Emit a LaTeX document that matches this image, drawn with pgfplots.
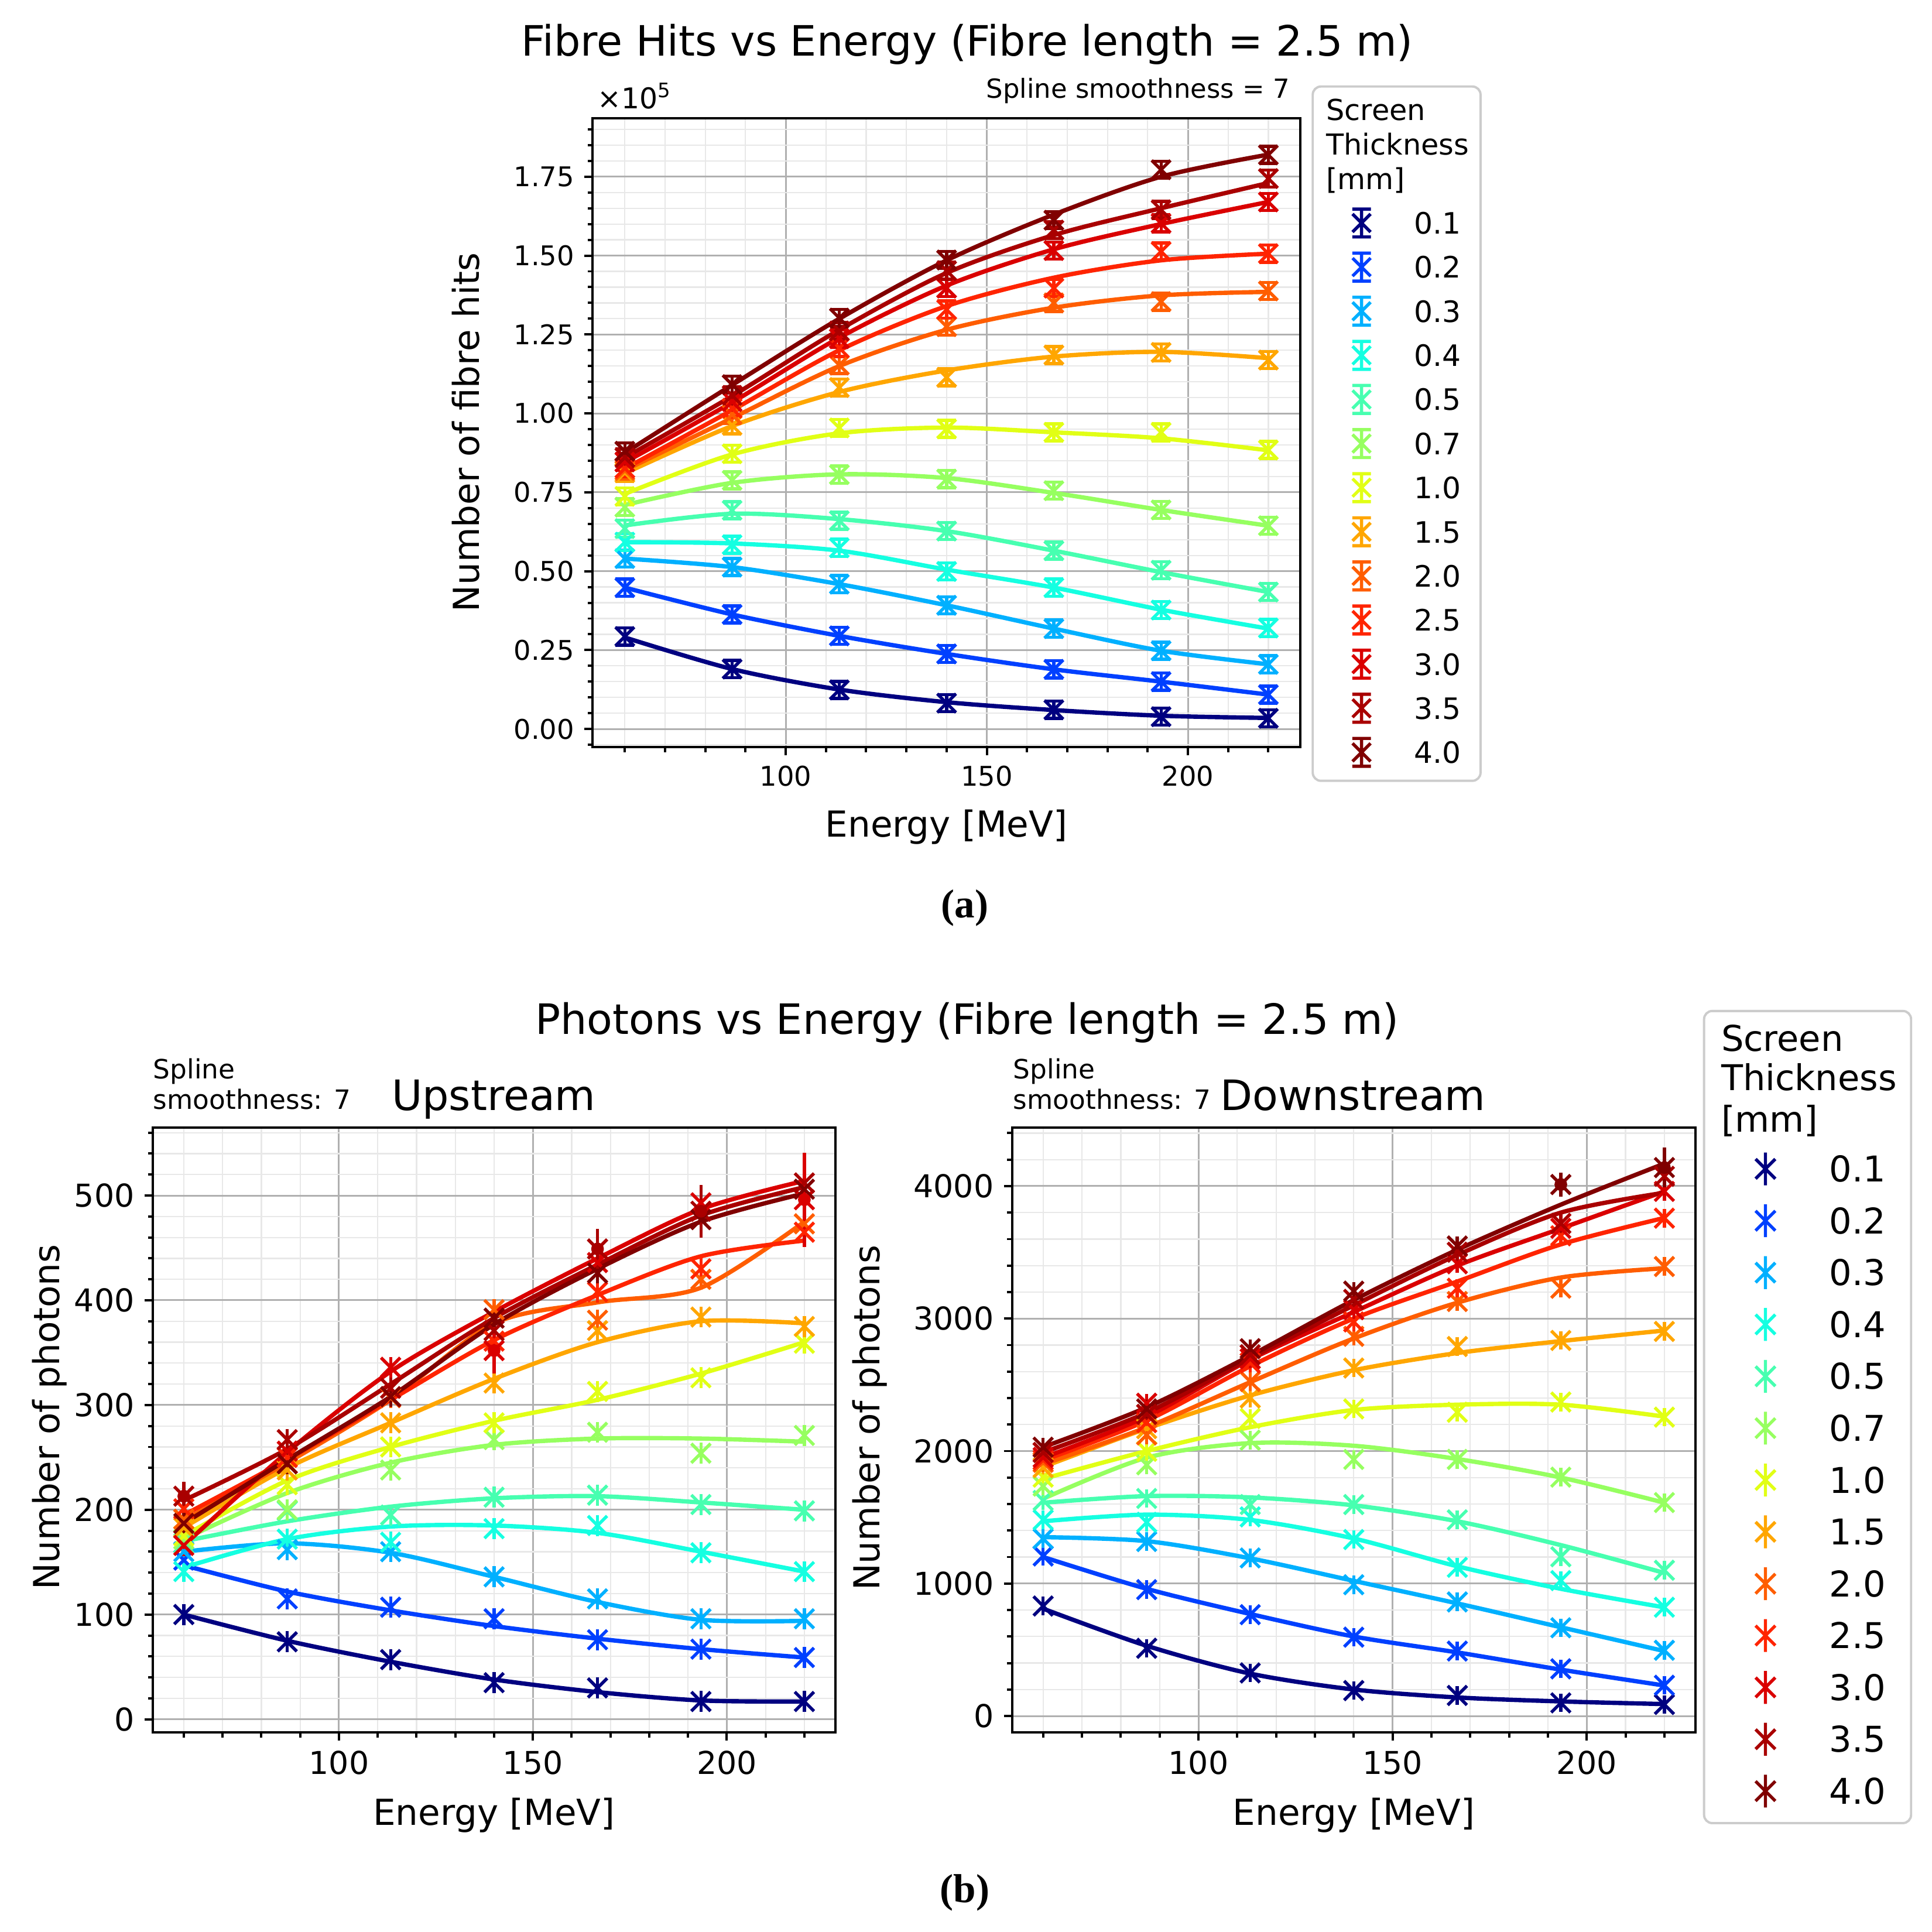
\documentclass[border=0pt]{standalone}
\usepackage{fontspec}
\setmainfont{DejaVu Sans}
\newfontfamily\capfont{Liberation Serif}
\usepackage{pgfplots}
\usepackage{pgfplotstable}
\pgfplotsset{compat=1.18}

\definecolor{c01}{HTML}{000080}
\definecolor{c02}{HTML}{0040FF}
\definecolor{c03}{HTML}{00B0FF}
\definecolor{c04}{HTML}{15FFE1}
\definecolor{c05}{HTML}{47FFB0}
\definecolor{c07}{HTML}{96FF60}
\definecolor{c10}{HTML}{E1FF15}
\definecolor{c15}{HTML}{FFA600}
\definecolor{c20}{HTML}{FF5D00}
\definecolor{c25}{HTML}{FF2400}
\definecolor{c30}{HTML}{DA0000}
\definecolor{c35}{HTML}{A90000}
\definecolor{c40}{HTML}{800000}

% ---------- Fibre hits (x 1e5): markers and spline curve ----------
\pgfplotstableread{
E m01 m02 m03 m04 m05 m07 m10 m15 m20 m25 m30 m35 m40
60 0.293 0.448 0.540 0.592 0.635 0.703 0.737 0.812 0.819 0.826 0.846 0.860 0.880
86.67 0.190 0.363 0.513 0.584 0.693 0.788 0.872 0.962 0.996 1.016 1.037 1.057 1.091
113.33 0.124 0.295 0.459 0.574 0.660 0.806 0.954 1.082 1.153 1.207 1.237 1.261 1.302
140 0.082 0.238 0.392 0.499 0.627 0.792 0.951 1.114 1.275 1.329 1.397 1.452 1.486
166.67 0.061 0.189 0.318 0.448 0.565 0.755 0.940 1.185 1.350 1.397 1.516 1.581 1.612
193.33 0.039 0.150 0.248 0.377 0.503 0.694 0.940 1.193 1.354 1.513 1.602 1.645 1.772
220 0.034 0.109 0.205 0.320 0.434 0.644 0.884 1.169 1.388 1.506 1.670 1.744 1.819
}\tM
\pgfplotstableread{
E l01 l02 l03 l04 l05 l07 l10 l15 l20 l25 l30 l35 l40
60 0.290 0.448 0.540 0.592 0.645 0.710 0.745 0.810 0.820 0.825 0.845 0.860 0.875
86.67 0.190 0.363 0.513 0.588 0.682 0.780 0.870 0.960 0.985 1.010 1.035 1.055 1.090
113.33 0.125 0.295 0.459 0.565 0.665 0.807 0.937 1.068 1.150 1.200 1.240 1.265 1.300
140 0.085 0.238 0.392 0.505 0.627 0.795 0.955 1.136 1.265 1.340 1.405 1.445 1.485
166.67 0.060 0.189 0.318 0.448 0.565 0.748 0.940 1.180 1.335 1.430 1.520 1.565 1.630
193.33 0.042 0.150 0.248 0.378 0.497 0.694 0.921 1.195 1.374 1.485 1.600 1.650 1.750
220 0.035 0.109 0.205 0.318 0.434 0.644 0.883 1.175 1.385 1.506 1.670 1.730 1.820
}\tL

% ---------- Upstream photons ----------
\pgfplotstableread{
E m01 m02 m03 m04 m05 m07 m10 m15 m20 m25 m30 m35 m40
60 100 152 160 141 168 172 175 183 191 201 166 213 187
86.67 74 115 162 172 199 200 224 238 244 250 256 267 244
113.33 57 107 160 169 195 238 260 283 307 308 336 316 308
140 35 96 136 182 212 267 283 321 391 361 352 371 383
166.67 30 76 115 185 214 274 313 371 381 408 436 449 426
193.33 17 67 96 159 205 254 326 384 420 430 493 485 477
220 17 59 96 141 199 271 359 375 473 465 496 512 506
}\uM
\pgfplotstableread{
E l01 l02 l03 l04 l05 l07 l10 l15 l20 l25 l30 l35 l40
60 100 147 160 145 170 172 175 183 190 195 166 209 187
86.67 75 122 168 172 189 216 228 240 245 248 255 258 248
113.33 55 104 159 184 203 245 260 283 305 305 332 320 308
140 38 89 136 185 211 262 285 325 378 362 389 383 377
166.67 26 77 112 178 213 268 305 360 398 405 440 434 430
193.33 18 67 95 160 207 268 330 380 412 442 487 481 475
220 17 59 94 141 200 265 360 378 475 457 514 508 502
}\uL

% ---------- Downstream photons ----------
\pgfplotstableread{
E m01 m02 m03 m04 m05 m07 m10 m15 m20 m25 m30 m35 m40
60 830 1208 1338 1481 1627 1735 1803 1875 1915 1933 1952 1989 2029
86.67 511 954 1317 1462 1642 1896 1998 2169 2122 2215 2361 2277 2318
113.33 325 765 1193 1503 1596 2082 2246 2401 2525 2665 2696 2727 2773
140 192 595 991 1332 1596 1937 2318 2627 2866 2975 3067 3145 3207
166.67 155 490 861 1122 1481 1937 2293 2789 3129 3229 3414 3501 3548
193.33 99 356 666 1022 1202 1803 2370 2835 3229 3625 3681 3718 4012
220 87 232 496 821 1100 1611 2256 2903 3393 3758 3960 4074 4140
}\dM
\pgfplotstableread{
E l01 l02 l03 l04 l05 l07 l10 l15 l20 l25 l30 l35 l40
60 810 1200 1350 1470 1610 1640 1790 1880 1900 1930 1950 1990 2030
86.67 530 960 1320 1520 1660 1950 2000 2170 2180 2230 2260 2290 2330
113.33 320 770 1190 1480 1650 2060 2180 2420 2520 2640 2690 2700 2720
140 200 600 1020 1340 1590 2040 2310 2610 2850 3000 3050 3100 3140
166.67 140 480 850 1130 1470 1940 2350 2740 3120 3280 3400 3480 3520
193.33 110 350 670 960 1290 1800 2350 2830 3310 3560 3680 3800 3860
220 90 230 490 820 1080 1610 2260 2910 3380 3760 3960 3950 4170
}\dL

\pgfplotsset{
  base/.style={scale only axis, xmin=52, xmax=228, xtick={100,150,200},
    minor xtick={60,70,...,220}, grid=both,
    major grid style={line width=0.6pt, color=black!31},
    minor grid style={line width=0.45pt, color=black!9},
    axis line style={line width=0.8pt},
    tick style={line width=0.8pt, color=black},
    major tick length=0.1cm, minor tick length=0.06cm,
    tick align=outside, tick pos=left,
    /pgf/number format/assume math mode=true,
    scaled ticks=false, legend cell align=left},
  ln/.style={no marks, smooth, line width=1.5pt, forget plot},
}
\newcommand{\ser}[4]{%
  \addplot[color=#1, mk] table[x=E, y=m#2] {#4};
  \addplot[ln, color=#1] table[x=E, y=l#2] {#3};
}
\newcommand{\allser}[2]{%
  \ser{c01}{01}{#1}{#2}\ser{c02}{02}{#1}{#2}\ser{c03}{03}{#1}{#2}
  \ser{c04}{04}{#1}{#2}\ser{c05}{05}{#1}{#2}\ser{c07}{07}{#1}{#2}
  \ser{c10}{10}{#1}{#2}\ser{c15}{15}{#1}{#2}\ser{c20}{20}{#1}{#2}
  \ser{c25}{25}{#1}{#2}\ser{c30}{30}{#1}{#2}\ser{c35}{35}{#1}{#2}
  \ser{c40}{40}{#1}{#2}
}

\begin{document}
\begin{tikzpicture}
\path[use as bounding box] (0,0) rectangle (23.52,-23.52);

% ================= (a) Fibre hits =================
\begin{axis}[base, at={(7.215cm,-9.0975cm)}, anchor=south west,
  width=8.6175cm, height=7.6575cm,
  ymin=-0.058, ymax=1.935, ytick={0,0.25,...,1.75}, minor ytick={-0.05,0,...,1.9},
  yticklabel style={/pgf/number format/.cd, fixed, fixed zerofill, precision=2},
  tick label style={font=\fontsize{9.4}{11}\selectfont},
  xlabel={Energy [MeV]}, ylabel={Number of fibre hits},
  label style={font=\fontsize{12.4}{14}\selectfont},
  xlabel style={at={(axis description cs:0.4996,-0.1263)}, anchor=center},
  ylabel style={at={(axis description cs:-0.1793,0.5005)}, anchor=center},
  mk/.style={only marks, mark=x, mark size=4.6pt, mark options={line width=1.1pt, solid},
    error bars/y dir=both, error bars/y fixed=0.027,
    error bars/error bar style={line width=1.1pt},
    error bars/error mark options={rotate=90, line width=1.1pt, mark size=3.2pt}},
  legend entries={0.1,0.2,0.3,0.4,0.5,0.7,1.0,1.5,2.0,2.5,3.0,3.5,4.0},
  legend style={draw=none, fill=none, at={(1.0688,0.8686)}, anchor=north west,
    inner sep=0pt, outer sep=0pt, row sep=0pt, column sep=0.49cm,
    nodes={inner sep=0pt, font=\fontsize{10.2}{12}\selectfont, text height=11.43pt, text depth=3.85pt}},
  legend image code/.code={
    \path[draw=none, fill=none] (0cm,-0.17cm) rectangle (0.3cm,0.17cm);
    \draw[#1, solid, fill=none, line width=1.1pt] (0.15cm,-0.17cm) -- (0.15cm,0.17cm)
      (0.037cm,0.17cm) -- (0.263cm,0.17cm) (0.037cm,-0.17cm) -- (0.263cm,-0.17cm)
      (0.04cm,-0.11cm) -- (0.26cm,0.11cm) (0.04cm,0.11cm) -- (0.26cm,-0.11cm);
  },
]
\allser{\tL}{\tM}
\end{axis}

% ================= (b) Upstream =================
\begin{axis}[base, at={(1.86cm,-21.09cm)}, anchor=south west,
  width=8.31cm, height=7.365cm,
  ymin=-12.5, ymax=565, ytick={0,100,...,500}, minor ytick={0,20,...,560},
  tick label style={font=\fontsize{10.9}{12}\selectfont},
  xlabel={Energy [MeV]}, ylabel={Number of photons},
  label style={font=\fontsize{12.4}{14}\selectfont},
  xlabel style={at={(axis description cs:0.5,-0.1365)}, anchor=center},
  ylabel style={at={(axis description cs:-0.1516,0.521)}, anchor=center},
  mk/.style={only marks, mark=x, mark size=4.7pt, mark options={line width=1.1pt, solid},
    error bars/y dir=both, error bars/y fixed=10, error bars/error mark=none,
    error bars/error bar style={line width=1.1pt}},
]
\allser{\uL}{\uM}
\addplot[c30, only marks, mark=none, forget plot, error bars/y dir=both, error bars/y explicit,
  error bars/error mark=none, error bars/error bar style={line width=1.1pt}]
  coordinates {(220,496) +- (0,45) (140,352) +- (0,22)};
\addplot[c35, only marks, mark=none, forget plot, error bars/y dir=both, error bars/y explicit,
  error bars/error mark=none, error bars/error bar style={line width=1.1pt}]
  coordinates {(193.33,485) +- (0,25) (166.67,449) +- (0,19) (60,213) +- (0,14)};
\end{axis}

% ================= (b) Downstream =================
\begin{axis}[base, at={(12.321cm,-21.09cm)}, anchor=south west,
  width=8.319cm, height=7.365cm,
  ymin=-124, ymax=4443, ytick={0,1000,...,4000}, minor ytick={0,200,...,4400},
  yticklabel style={/pgf/number format/.cd, set thousands separator={}},
  tick label style={font=\fontsize{10.9}{12}\selectfont},
  xlabel={Energy [MeV]}, ylabel={Number of photons},
  label style={font=\fontsize{12.4}{14}\selectfont},
  xlabel style={at={(axis description cs:0.5,-0.1365)}, anchor=center},
  ylabel style={at={(axis description cs:-0.208,0.52)}, anchor=center},
  mk/.style={only marks, mark=x, mark size=4.7pt, mark options={line width=1.1pt, solid},
    error bars/y dir=both, error bars/y fixed=70, error bars/error mark=none,
    error bars/error bar style={line width=1.1pt}},
  legend entries={0.1,0.2,0.3,0.4,0.5,0.7,1.0,1.5,2.0,2.5,3.0,3.5,4.0},
  legend style={draw=none, fill=none, at={(1.0844,0.9743)}, anchor=north west,
    inner sep=0pt, outer sep=0pt, row sep=0pt, column sep=0.63cm,
    nodes={inner sep=0pt, font=\fontsize{12.3}{14}\selectfont, text height=13.46pt, text depth=4.5pt}},
  legend image code/.code={
    \path[draw=none, fill=none] (0cm,-0.2cm) rectangle (0.3cm,0.2cm);
    \draw[#1, solid, fill=none, line width=1.1pt] (0.15cm,-0.2cm) -- (0.15cm,0.2cm)
      (0.03cm,-0.12cm) -- (0.27cm,0.12cm) (0.03cm,0.12cm) -- (0.27cm,-0.12cm);
  },
]
\allser{\dL}{\dM}
\addplot[c40, only marks, mark=none, forget plot, error bars/y dir=both, error bars/y explicit,
  error bars/error mark=none, error bars/error bar style={line width=1.1pt}]
  coordinates {(220,4140) +- (0,150) (193.33,4012) +- (0,90)};
\end{axis}

% ================= texts =================
\node[anchor=base, inner sep=0pt, font=\fontsize{14.5}{17}\selectfont] at (11.775,-0.681) {Fibre Hits vs Energy (Fibre length = 2.5 m)};
\node[anchor=base west, inner sep=0pt, font=\fontsize{9.9}{11}\selectfont] at (7.269,-1.3185) {×10\raisebox{0.37em}{\fontsize{6.9}{8}\selectfont 5}};
\node[anchor=base east, inner sep=0pt, font=\fontsize{9.1}{10}\selectfont] at (15.705,-1.197) {Spline smoothness = 7};
\node[anchor=base west, inner sep=0pt, font=\fontsize{10}{12}\selectfont] at (16.14,-1.461) {Screen};
\node[anchor=base west, inner sep=0pt, font=\fontsize{10}{12}\selectfont] at (16.14,-1.8855) {Thickness};
\node[anchor=base west, inner sep=0pt, font=\fontsize{10}{12}\selectfont] at (16.14,-2.307) {[mm]};
\draw[black!20, line width=0.8pt, rounded corners=0.1cm] (15.981,-1.053) rectangle (18.024,-9.5055);
\node[anchor=center, font=\capfont\bfseries\fontsize{14}{16}\selectfont] at (11.745,-11.055) {(a)};

\node[anchor=base, inner sep=0pt, font=\fontsize{14.5}{17}\selectfont] at (11.775,-12.591) {Photons vs Energy (Fibre length = 2.5 m)};
\node[anchor=base, inner sep=0pt, font=\fontsize{14.5}{17}\selectfont] at (6.0105,-13.515) {Upstream};
\node[anchor=base, inner sep=0pt, font=\fontsize{14.5}{17}\selectfont] at (16.47,-13.515) {Downstream};
\node[anchor=base west, inner sep=0pt, font=\fontsize{9.2}{10}\selectfont] at (1.86,-13.131) {Spline};
\node[anchor=base west, inner sep=0pt, font=\fontsize{9.2}{10}\selectfont] at (1.86,-13.5045) {smoothness: 7};
\node[anchor=base west, inner sep=0pt, font=\fontsize{9.2}{10}\selectfont] at (12.33,-13.131) {Spline};
\node[anchor=base west, inner sep=0pt, font=\fontsize{9.2}{10}\selectfont] at (12.33,-13.5045) {smoothness: 7};
\node[anchor=base west, inner sep=0pt, font=\fontsize{12.3}{14}\selectfont] at (20.9475,-12.798) {Screen};
\node[anchor=base west, inner sep=0pt, font=\fontsize{12.3}{14}\selectfont] at (20.9475,-13.275) {Thickness};
\node[anchor=base west, inner sep=0pt, font=\fontsize{12.3}{14}\selectfont] at (20.9475,-13.782) {[mm]};
\draw[black!20, line width=0.8pt, rounded corners=0.1cm] (20.745,-12.3075) rectangle (23.265,-22.194);
\node[anchor=center, font=\capfont\bfseries\fontsize{14}{16}\selectfont] at (11.745,-23.04) {(b)};
\end{tikzpicture}
\end{document}
